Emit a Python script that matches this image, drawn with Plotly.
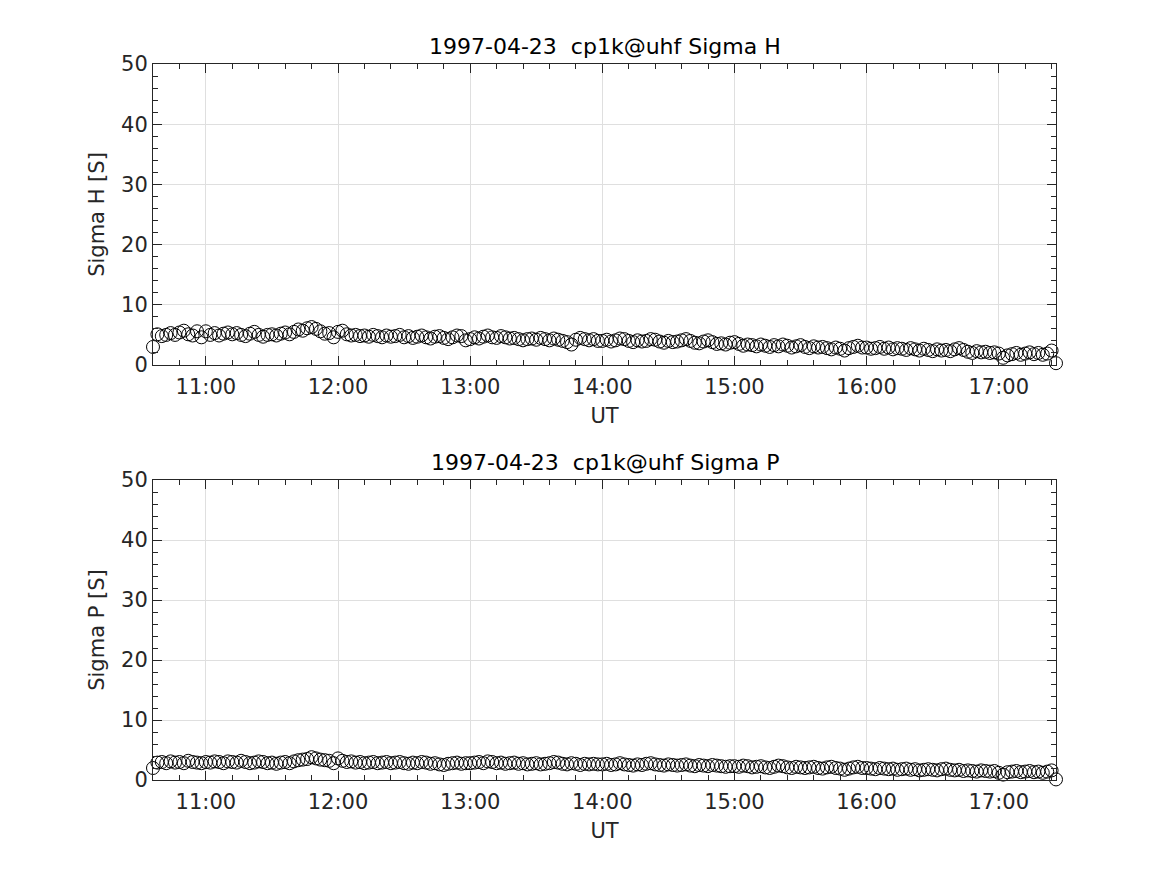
import pandas as pd
import plotly.graph_objects as go
from plotly.subplots import make_subplots

# Sample times (UT), every 2 minutes from 10:36 to 17:26
start_time = "1997-04-23 10:36"
n_samples = 206
times = pd.date_range(start=start_time, periods=n_samples, freq="2min")

sigma_h = [
    # 10:36-10:58
    3.0, 5.1, 4.8, 5.0, 5.3, 5.0, 5.4, 5.7, 5.1, 4.9, 5.6, 4.6,
    # 11:00-11:58
    5.6, 5.0, 5.3, 4.9, 5.2, 5.4, 5.1, 5.3, 5.0, 4.8, 5.2, 5.5, 5.0, 4.7, 5.0,
    5.1, 4.9, 5.2, 5.4, 5.1, 5.5, 5.9, 5.7, 6.1, 6.3, 6.0, 5.6, 5.2, 5.3, 4.6,
    # 12:00-12:58
    5.5, 5.7, 5.1, 4.9, 5.0, 4.8, 4.9, 4.7, 5.0, 4.8, 4.6, 4.9, 4.7, 4.8, 5.0,
    4.6, 4.8, 4.5, 4.7, 4.9, 4.6, 4.4, 4.7, 4.8, 4.5, 4.3, 4.6, 4.9, 4.8, 4.1,
    # 13:00-13:58
    4.3, 4.6, 4.4, 4.7, 4.9, 4.6, 4.5, 4.8, 4.6, 4.4, 4.5, 4.3, 4.1, 4.3, 4.4,
    4.2, 4.5, 4.3, 4.1, 4.4, 4.2, 4.0, 3.8, 3.4, 4.2, 4.5, 4.3, 4.1, 4.3, 4.0,
    # 14:00-14:58
    4.0, 4.2, 3.9, 4.1, 4.4, 4.3, 4.0, 3.8, 4.1, 3.9, 4.0, 4.3, 4.2, 3.9, 3.7,
    4.0, 3.8, 3.9, 4.1, 4.3, 4.0, 3.7, 3.6, 3.9, 4.1, 3.8, 3.5, 3.6, 3.4, 3.7,
    # 15:00-15:58
    3.8, 3.5, 3.2, 3.4, 3.3, 3.1, 3.4, 3.2, 3.0, 3.3, 3.1, 3.4, 3.2, 2.9, 3.1,
    3.3, 3.0, 2.8, 3.1, 2.9, 3.0, 2.8, 2.6, 2.9, 2.7, 2.4, 2.8, 3.0, 3.2, 2.9,
    # 16:00-16:58
    2.9, 2.7, 2.8, 3.0, 2.7, 2.9, 2.6, 2.8, 2.7, 2.5, 2.8, 2.6, 2.4, 2.7, 2.5,
    2.3, 2.6, 2.4, 2.5, 2.3, 2.6, 2.8, 2.5, 2.2, 2.0, 2.3, 2.1, 2.2, 2.0, 2.1,
    # 17:00-17:26
    1.9, 1.2, 1.6, 1.8, 2.0, 1.7, 1.9, 2.1, 1.8, 2.0, 1.7, 1.9, 2.4, 0.3,
]

sigma_p = [
    # 10:36-10:58
    2.0, 2.9, 3.0, 2.8, 3.1, 2.9, 3.0, 2.8, 3.2, 3.0, 2.9, 2.8,
    # 11:00-11:58
    3.0, 2.9, 3.1, 3.0, 2.8, 3.1, 3.0, 2.9, 3.2, 3.0, 2.8, 2.9, 3.1, 3.0, 2.8,
    2.9, 2.7, 2.9, 3.0, 2.8, 3.1, 3.3, 3.4, 3.5, 3.8, 3.6, 3.4, 3.3, 3.2, 2.8,
    # 12:00-12:58
    3.6, 3.2, 3.0, 3.1, 2.9, 3.0, 2.8, 2.9, 3.0, 2.8, 2.9, 3.0, 2.8, 2.9, 3.0,
    2.8, 2.7, 2.9, 2.8, 3.0, 2.9, 2.7, 2.8, 2.6, 2.5, 2.7, 2.8, 2.9, 2.7, 2.8,
    # 13:00-13:58
    2.8, 2.9, 3.0, 2.8, 3.1, 3.0, 2.8, 2.9, 2.7, 2.8, 2.9, 2.7, 2.8, 2.6, 2.7,
    2.8, 2.6, 2.7, 2.8, 3.0, 2.9, 2.7, 2.6, 2.8, 2.7, 2.5, 2.7, 2.6, 2.7, 2.6,
    # 14:00-14:58
    2.6, 2.7, 2.5, 2.6, 2.8, 2.6, 2.5, 2.4, 2.6, 2.5, 2.7, 2.8, 2.6, 2.5, 2.4,
    2.6, 2.5, 2.4, 2.5, 2.6, 2.4, 2.3, 2.5, 2.4, 2.3, 2.5, 2.4, 2.3, 2.2, 2.3,
    # 15:00-15:58
    2.3, 2.2, 2.4, 2.3, 2.1, 2.2, 2.3, 2.1, 2.0, 2.2, 2.4, 2.3, 2.1, 2.0, 2.2,
    2.1, 2.0, 2.1, 2.2, 2.0, 1.9, 2.1, 2.2, 2.0, 1.9, 1.7, 1.9, 2.1, 2.2, 2.0,
    # 16:00-16:58
    2.0, 1.9, 1.8, 2.0, 1.9, 1.8, 1.9, 1.7, 1.8, 1.9, 1.7, 1.8, 1.6, 1.7, 1.8,
    1.7, 1.6, 1.8, 1.9, 1.7, 1.6, 1.7, 1.5, 1.6, 1.5, 1.4, 1.6, 1.5, 1.4, 1.5,
    # 17:00-17:26
    1.2, 0.9, 1.3, 1.4, 1.5, 1.3, 1.4, 1.5, 1.3, 1.4, 1.2, 1.4, 1.6, 0.1,
]

titles = ["1997-04-23\u00a0\u00a0cp1k@uhf Sigma H", "1997-04-23\u00a0\u00a0cp1k@uhf Sigma P"]
y_labels = ["Sigma H [S]", "Sigma P [S]"]
x_label = "UT"
y_tick_vals = [0, 10, 20, 30, 40, 50]
x_tick_vals = [f"1997-04-23 {h}:00" for h in range(11, 18)]
x_tick_text = [f"{h}:00" for h in range(11, 18)]

W, H = 1167, 875
OFF = 8  # page body margin offset
L, R, T, B = 153, 1056, 64, 780
top_bottom_px = 365
bot_top_px = 480
ph = B - T
top_dom = [(B - top_bottom_px) / ph, 1.0]
bot_dom = [0.0, (B - bot_top_px) / ph]

FONT = "DejaVu Sans"
FS = 21
AX = "#262626"

fig = make_subplots(rows=2, cols=1)

for row, vals in enumerate([sigma_h, sigma_p], start=1):
    fig.add_trace(
        go.Scatter(
            x=times, y=vals, mode="markers", cliponaxis=False,
            marker=dict(symbol="circle-open", size=13, color="black",
                        line=dict(width=1, color="black")),
            showlegend=False, hoverinfo="x+y",
        ),
        row=row, col=1,
    )

common_x = dict(
    range=[times[0], times[-1]],
    tickmode="array", tickvals=x_tick_vals, ticktext=x_tick_text,
    ticks="inside", ticklen=9, tickwidth=1, tickcolor=AX,
    showline=True, linecolor=AX, linewidth=1, mirror="ticks",
    showgrid=True, gridcolor="#dfdfdf", gridwidth=1,
    zeroline=False, ticklabelstandoff=3,
    tickfont=dict(family=FONT, size=FS, color=AX),
    title=dict(text=x_label, font=dict(family=FONT, size=FS, color=AX), standoff=10),
    minor=dict(dtick=12 * 60 * 1000, tick0="1997-04-23 11:00", ticks="inside",
               ticklen=5, tickcolor=AX, showgrid=False),
)
common_y = dict(
    range=[0, 50],
    tickmode="array", tickvals=y_tick_vals,
    ticks="inside", ticklen=9, tickwidth=1, tickcolor=AX,
    showline=True, linecolor=AX, linewidth=1, mirror="ticks",
    showgrid=True, gridcolor="#dfdfdf", gridwidth=1,
    zeroline=False,
    tickfont=dict(family=FONT, size=FS, color=AX),
    minor=dict(dtick=2, tick0=0, ticks="inside", ticklen=5, tickcolor=AX, showgrid=False),
)

fig.update_layout(
    width=W, height=H,
    margin=dict(l=L - OFF, r=W - R + OFF, t=T - OFF, b=H - B + OFF),
    paper_bgcolor="white", plot_bgcolor="white",
    xaxis=dict(common_x, domain=[0, 1], anchor="y"),
    yaxis=dict(common_y, domain=top_dom, anchor="x",
               title=dict(text=y_labels[0], font=dict(family=FONT, size=FS, color=AX), standoff=10)),
    xaxis2=dict(common_x, domain=[0, 1], anchor="y2"),
    yaxis2=dict(common_y, domain=bot_dom, anchor="x2",
                title=dict(text=y_labels[1], font=dict(family=FONT, size=FS, color=AX), standoff=10)),
)

for i, (t, dom) in enumerate(zip(titles, [top_dom, bot_dom])):
    fig.add_annotation(
        text=t, xref="paper", yref="paper", x=0.5, y=dom[1],
        yanchor="bottom", xanchor="center", showarrow=False, yshift=3,
        font=dict(family=FONT, size=22, color="black"),
    )

fig.write_html("out.html")
